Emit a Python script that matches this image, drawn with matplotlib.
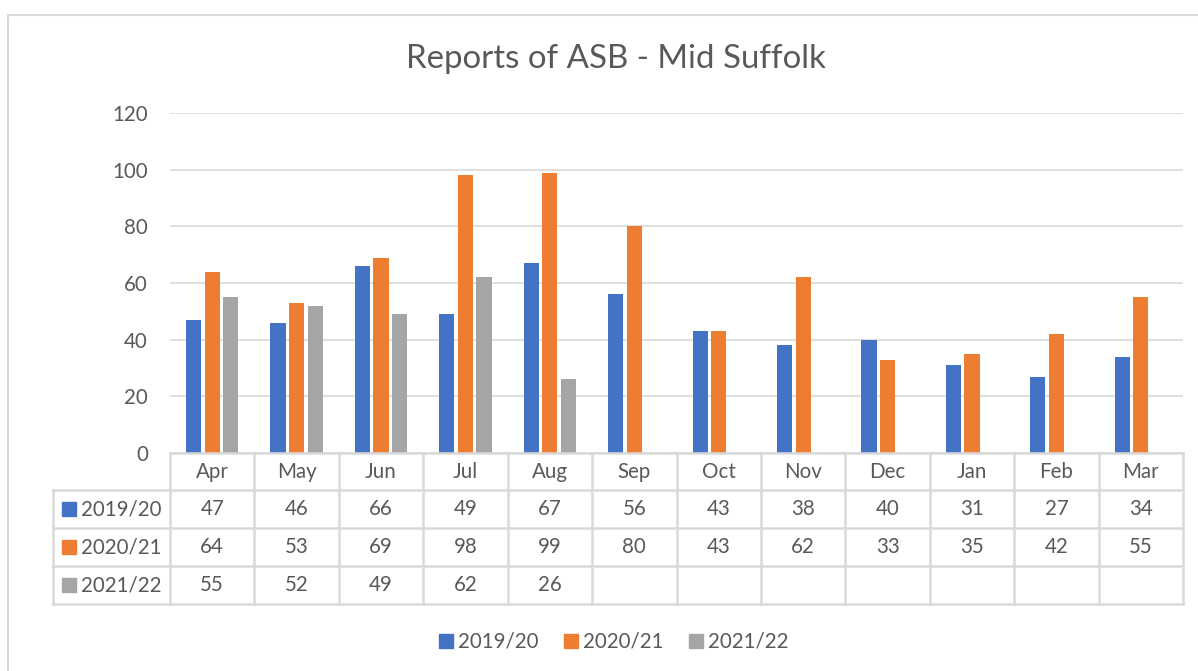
import numpy as np
import matplotlib.pyplot as plt
from matplotlib.lines import Line2D
from matplotlib.patches import Rectangle

months = ['Apr', 'May', 'Jun', 'Jul', 'Aug', 'Sep', 'Oct', 'Nov', 'Dec', 'Jan', 'Feb', 'Mar']
series_names = ['2019/20', '2020/21', '2021/22']
y2019 = [47, 46, 66, 49, 67, 56, 43, 38, 40, 31, 27, 34]
y2020 = [64, 53, 69, 98, 99, 80, 43, 62, 33, 35, 42, 55]
y2021 = [55, 52, 49, 62, 26]
colors = ['#4472C4', '#ED7D31', '#A5A5A5']
series = [y2019, y2020, y2021]

W, H = 1198, 671
txt = '#595959'
grid = '#D9D9D9'
fs = 14.8
plt.rcParams['font.family'] = ['Lato', 'DejaVu Sans']

fig = plt.figure(figsize=(W / 100, H / 100), dpi=100)

# pixel helpers
def fx(px): return px / W
def fy(py): return 1 - py / H

x0, x1 = 170, 1183
ytop, ybot = 113, 453
ax = fig.add_axes([fx(x0), fy(ybot), fx(x1) - fx(x0), fy(ytop) - fy(ybot)])

n = len(months)
x = np.arange(n)
w = 0.18
step = 0.22
for i, (vals, c) in enumerate(zip(series, colors)):
    ax.bar(x[:len(vals)] + (i - 1) * step, vals, width=w, color=c, zorder=3)

ax.set_xlim(-0.5, n - 0.5)
ax.set_ylim(0, 120)
ax.set_yticks(range(0, 121, 20))
ax.yaxis.grid(True, color=grid, lw=1.2, zorder=0)
ax.set_xticks([])
for s in ax.spines.values():
    s.set_visible(False)
ax.tick_params(axis='y', length=0, pad=16, labelsize=fs, labelcolor=txt)

fig.text(fx(616), fy(59), 'Reports of ASB - Mid Suffolk', ha='center', va='center',
         fontsize=23.8, color=txt)

# data table
rows = [453, 490, 528, 566, 604]
lab_left = 53
colw = (x1 - x0) / n
lines = []
lines.append(((x0, rows[0]), (x1, rows[0])))
for r in rows[1:]:
    lines.append(((lab_left, r), (x1, r)))
lines.append(((lab_left, rows[1]), (lab_left, rows[-1])))
for k in range(n + 1):
    xx = x0 + k * colw
    lines.append(((xx, rows[0]), (xx, rows[-1])))
for (a, b) in lines:
    fig.add_artist(Line2D([fx(a[0]), fx(b[0])], [fy(a[1]), fy(b[1])],
                          color=grid, lw=1.8))

for k, m in enumerate(months):
    cx = x0 + (k + 0.5) * colw
    fig.text(fx(cx), fy((rows[0] + rows[1]) / 2), m, ha='center', va='center',
             fontsize=fs, color=txt)
for r, (name, vals, c) in enumerate(zip(series_names, series, colors)):
    cy = (rows[r + 1] + rows[r + 2]) / 2
    fig.add_artist(Rectangle((fx(62), fy(cy + 7)), fx(14), 14 / H, color=c))
    fig.text(fx(81), fy(cy), name, ha='left', va='center', fontsize=fs, color=txt)
    for k, v in enumerate(vals):
        cx = x0 + (k + 0.5) * colw
        fig.text(fx(cx), fy(cy), str(v), ha='center', va='center',
                 fontsize=fs, color=txt)

# legend
leg_x = [439, 564, 689]
for lx, name, c in zip(leg_x, series_names, colors):
    fig.add_artist(Rectangle((fx(lx), fy(648)), fx(14), 14 / H, color=c))
    fig.text(fx(lx + 19), fy(641), name, ha='left', va='center', fontsize=fs, color=txt)

# chart border
fig.add_artist(Line2D([fx(8), fx(8), fx(W)], [0, fy(15), fy(15)], color=grid, lw=1.5))

fig.savefig('out.png', dpi=100, facecolor='white')
